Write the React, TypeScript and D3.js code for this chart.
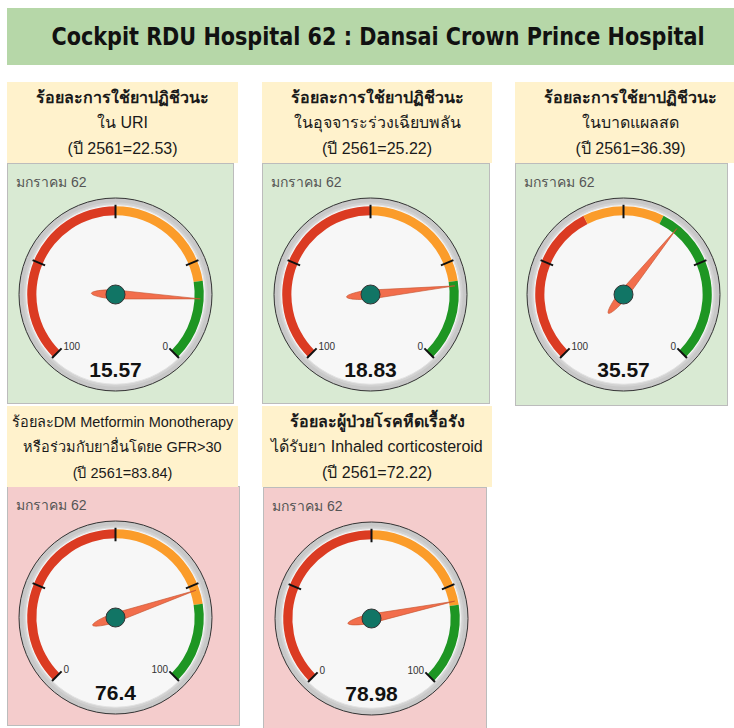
import React from "react";
import * as d3 from "d3";

// ---- data ----
const titleText = "Cockpit RDU Hospital 62 : Dansai Crown Prince Hospital";
const monthLabel = "มกราคม 62";
const headerLine1 = [
  "ร้อยละการใช้ยาปฏิชีวนะ",
  "ร้อยละการใช้ยาปฏิชีวนะ",
  "ร้อยละการใช้ยาปฏิชีวนะ",
  "ร้อยละDM Metformin Monotherapy",
  "ร้อยละผู้ป่วยโรคหืดเรื้อรัง",
];
const headerLine2 = [
  "ใน URI",
  "ในอุจจาระร่วงเฉียบพลัน",
  "ในบาดแผลสด",
  "หรือร่วมกับยาอื่นโดยe GFR>30",
  "ได้รับยา Inhaled corticosteroid",
];
const prevYear = [22.53, 25.22, 36.39, 83.84, 72.22];
const values = [15.57, 18.83, 35.57, 76.4, 78.98];
const reversed = [true, true, true, false, false];
const greenBands = [[0, 20], [0, 20], [0, 40], [80, 100], [80, 100]];
const orangeBands = [[20, 50], [20, 50], [40, 60], [50, 80], [50, 80]];
const redBands = [[50, 100], [50, 100], [60, 100], [0, 50], [0, 50]];
const majorTicks = [0, 25, 50, 75, 100];

// ---- layout ----
const W = 734;
const H = 728;
const boxes = [
  { hx: 7, hy: 82, hw: 231, px: 7, py: 163, pw: 226, ph: 240, bg: "#d9ead3", fs: 16 },
  { hx: 262, hy: 82, hw: 230, px: 262, py: 163, pw: 227, ph: 240, bg: "#d9ead3", fs: 16 },
  { hx: 515, hy: 82, hw: 231, px: 515, py: 163, pw: 212, ph: 242, bg: "#d9ead3", fs: 16 },
  { hx: 7, hy: 406, hw: 231, px: 7, py: 486, pw: 232, ph: 239, bg: "#f4cccc", fs: 14.5 },
  { hx: 262, hy: 406, hw: 230, px: 263, py: 487, pw: 223, ph: 245, bg: "#f4cccc", fs: 16 },
];
const R = 96.5;
const thaiFont = "Arial, 'Liberation Sans', sans-serif";
const numFont = "Arial, 'Liberation Sans', sans-serif";

const rad = (deg: number) => (deg * Math.PI) / 180;

function Gauge({ i, cx, cy }: { i: number; cx: number; cy: number }) {
  const angle = d3
    .scaleLinear()
    .domain([0, 100])
    .range(reversed[i] ? [135, -135] : [-135, 135]);
  const band = d3.arc<any>().innerRadius(R * 0.82).outerRadius(R * 0.915);
  const bandPath = (b: number[]) => {
    const a0 = angle(b[0]);
    const a1 = angle(b[1]);
    return band({ startAngle: rad(Math.min(a0, a1)), endAngle: rad(Math.max(a0, a1)) }) as string;
  };
  const tip = R * 0.88;
  const tail = R * 0.25;
  const w = 4.5;
  const needle = `M0,${-tip} L${w},0 C${w},${tail * 0.55} ${w * 0.45},${tail} 0,${tail} C${-w * 0.45},${tail} ${-w},${tail * 0.55} ${-w},0 Z`;
  const pt = (deg: number, r: number) => [Math.sin(rad(deg)) * r, -Math.cos(rad(deg)) * r];
  const leftVal = reversed[i] ? 100 : 0;
  const rightVal = reversed[i] ? 0 : 100;
  const lp = pt(-135, R * 0.8);
  const rp = pt(135, R * 0.8);
  return (
    <g transform={`translate(${cx},${cy})`}>
      <circle r={R} fill="#c8c8c8" stroke="#333" strokeWidth={1} />
      <circle r={R * 0.955} fill="#d2d2d2" />
      <circle r={R * 0.93} fill="#f7f7f7" stroke="#e2e2e2" strokeWidth={1} />
      <path d={bandPath(redBands[i])} fill="#db3b22" />
      <path d={bandPath(orangeBands[i])} fill="#fb9c2a" />
      <path d={bandPath(greenBands[i])} fill="#1e9623" />
      {majorTicks.map((t) => {
        const a = pt(angle(t), R * 0.79);
        const b = pt(angle(t), R * 0.93);
        return <line key={t} x1={a[0]} y1={a[1]} x2={b[0]} y2={b[1]} stroke="#111" strokeWidth={2} />;
      })}
      <text x={lp[0] + 2.5} y={lp[1] + 1} fontSize={10} fontFamily={numFont} fill="#333">
        {leftVal}
      </text>
      <text x={rp[0] - 2} y={rp[1] + 1} fontSize={10} fontFamily={numFont} fill="#333" textAnchor="end">
        {rightVal}
      </text>
      <text y={R * 0.86} textAnchor="middle" fontSize={21} fontWeight="bold" fontFamily={numFont} fill="#111">
        {values[i]}
      </text>
      <path d={needle} transform={`rotate(${angle(values[i])})`} fill="#f26e4c" stroke="#c4532f" strokeWidth={0.6} />
      <circle r={9.5} fill="#117565" stroke="#333" strokeWidth={1} />
    </g>
  );
}

export default function App() {
  return (
    <div style={{ position: "absolute", left: 0, top: 0 }}>
      <svg width={W} height={H} style={{ display: "block", background: "#fff" }}>
        <rect x={7} y={8} width={727} height={57} fill="#b6d7a8" />
        <text
          x={378}
          y={45}
          textAnchor="middle"
          fontSize={24}
          fontWeight="bold"
          fontFamily="Tahoma, 'DejaVu Sans Condensed', 'DejaVu Sans', sans-serif"
          textLength={653}
          lengthAdjust="spacingAndGlyphs"
          fill="#111"
        >
          {titleText}
        </text>
        {boxes.map((b, i) => (
          <g key={i}>
            <rect x={b.px + 0.5} y={b.py + 0.5} width={b.pw} height={b.ph} fill={b.bg} stroke="#bcbcbc" strokeWidth={1} />
            <rect x={b.hx} y={b.hy} width={b.hw} height={81} fill="#fff2cc" />
            <g fontFamily={thaiFont} fontSize={b.fs} fill="#1a1a1a" textAnchor="middle">
              <text x={b.hx + b.hw / 2} y={b.hy + 21} fontWeight={i === 3 ? "normal" : "bold"}>{headerLine1[i]}</text>
              <text x={b.hx + b.hw / 2} y={b.hy + 46}>{headerLine2[i]}</text>
              <text x={b.hx + b.hw / 2} y={b.hy + 72}>{`(ปี 2561=${prevYear[i]})`}</text>
            </g>
            <text x={b.px + 9} y={b.py + 24} fontFamily={thaiFont} fontSize={14} fill="#555">
              {monthLabel}
            </text>
            <Gauge i={i} cx={b.px + 108.5} cy={b.py + 131.5} />
          </g>
        ))}
      </svg>
    </div>
  );
}
